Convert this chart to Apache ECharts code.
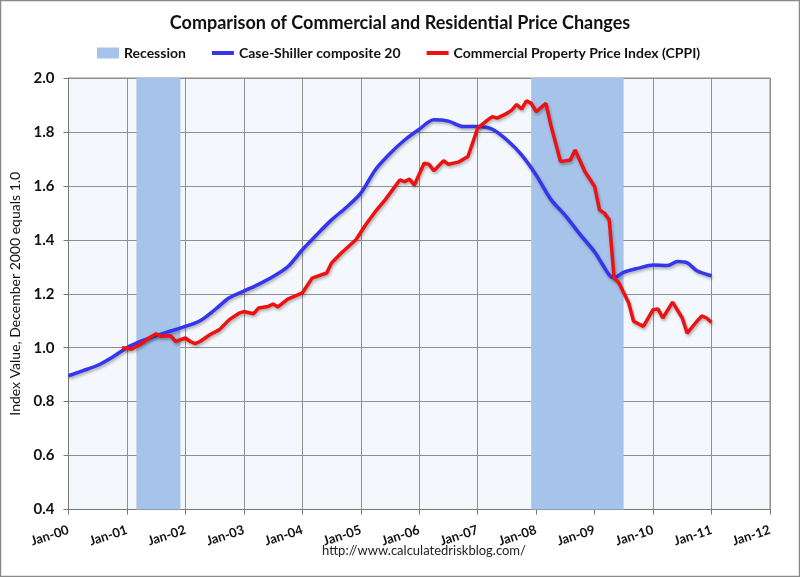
<!DOCTYPE html>
<html><head><meta charset="utf-8">
<script src="https://cdn.jsdelivr.net/npm/echarts@6/dist/echarts.min.js"></script>
<style>html,body{margin:0;padding:0;background:#fff}#c{width:800px;height:577px}</style>
</head><body><div id="c"></div>
<script>
var csDates = ['2000-01','2000-04','2000-07','2000-10','2001-01','2001-04','2001-07','2001-10','2002-01','2002-04','2002-07','2002-10','2003-01','2003-04','2003-07','2003-10','2004-01','2004-04','2004-07','2004-10','2005-01','2005-04','2005-07','2005-10','2006-01','2006-04','2006-07','2006-10','2007-01','2007-04','2007-07','2007-10','2008-01','2008-04','2008-07','2008-10','2009-01','2009-04','2009-05','2009-07','2009-10','2010-01','2010-04','2010-06','2010-08','2010-10','2011-01'];
var csValues = [0.896,0.915,0.935,0.965,1.0,1.025,1.045,1.062,1.079,1.10,1.14,1.185,1.21,1.235,1.264,1.30,1.363,1.42,1.474,1.52,1.573,1.66,1.72,1.77,1.81,1.845,1.84,1.82,1.82,1.81,1.77,1.715,1.64,1.55,1.49,1.42,1.355,1.27,1.26,1.28,1.295,1.307,1.305,1.32,1.315,1.285,1.267];

var cppiDates = ['2000-12','2001-02','2001-03','2001-04','2001-05','2001-07','2001-08','2001-10','2001-11','2002-01','2002-02','2002-03','2002-04','2002-06','2002-08','2002-10','2002-12','2003-01','2003-03','2003-04','2003-06','2003-07','2003-08','2003-10','2004-01','2004-03','2004-06','2004-07','2004-09','2004-12','2005-02','2005-04','2005-06','2005-09','2005-10','2005-11','2005-12','2006-02','2006-03','2006-04','2006-06','2006-07','2006-09','2006-11','2007-01','2007-03','2007-04','2007-05','2007-07','2007-08','2007-09','2007-10','2007-11','2007-12','2008-01','2008-03','2008-04','2008-06','2008-08','2008-09','2008-11','2009-01','2009-02','2009-03','2009-04','2009-05','2009-06','2009-08','2009-09','2009-11','2010-01','2010-02','2010-03','2010-05','2010-07','2010-08','2010-10','2010-11','2010-12','2011-01'];
var cppiValues = [1.0,0.995,1.005,1.015,1.03,1.052,1.042,1.044,1.023,1.036,1.023,1.015,1.023,1.048,1.067,1.104,1.128,1.134,1.126,1.147,1.153,1.162,1.151,1.18,1.203,1.258,1.277,1.314,1.351,1.40,1.456,1.505,1.548,1.622,1.616,1.625,1.603,1.684,1.68,1.656,1.693,1.68,1.688,1.709,1.814,1.844,1.857,1.851,1.869,1.881,1.902,1.885,1.915,1.906,1.875,1.906,1.826,1.69,1.696,1.733,1.653,1.598,1.511,1.499,1.474,1.258,1.24,1.166,1.098,1.079,1.141,1.144,1.11,1.169,1.11,1.054,1.098,1.118,1.11,1.094];

var recessions = [['2001-03-01','2001-11-30'],['2007-12-01','2009-06-30']];
var yearTicks = ['Jan-00','Jan-01','Jan-02','Jan-03','Jan-04','Jan-05','Jan-06','Jan-07','Jan-08','Jan-09','Jan-10','Jan-11','Jan-12'];

function monthToYear(s){var p=s.split('-');return +p[0]+(+p[1]-1)/12;}
function dayToYear(s){var d=new Date(s+'T00:00:00Z');var y=d.getUTCFullYear();var s0=Date.UTC(y,0,1),s1=Date.UTC(y+1,0,1);return y+(d.getTime()+ (s.slice(-2)==='30'||s.slice(-2)==='31'?86400000:0)-s0)/(s1-s0);}
function pairs(ds,vs){return ds.map(function(d,i){return [monthToYear(d),vs[i]];});}

var FONT = "Lato,'Liberation Sans',sans-serif";
var LINEICON = 'path://M0,0L22,0L22,4L0,4Z';
var chart = echarts.init(document.getElementById('c'));
chart.setOption({
  animation:false,
  backgroundColor:'#ffffff',
  title:[{text:'Comparison of Commercial and Residential Price Changes',left:'center',top:9,
          textStyle:{fontFamily:FONT,fontSize:18,fontWeight:'bold',color:'#111'}},
         {text:'http://www.calculatedriskblog.com/',left:419,textAlign:'center',top:539,
          textStyle:{fontFamily:FONT,fontSize:13,fontWeight:'normal',color:'#222'}}],
  legend:{top:41,left:92,itemGap:26,itemWidth:22,itemHeight:11,symbolKeepAspect:true,
    textStyle:{fontFamily:FONT,fontSize:14,fontWeight:'bold',color:'#111'},
    data:[{name:'Recession',icon:'rect'},{name:'Case-Shiller composite 20',icon:LINEICON},{name:'Commercial Property Price Index (CPPI)',icon:LINEICON}]},
  grid:{left:68.5,right:30,top:78,bottom:67.5,show:true,backgroundColor:'#f4f7fc',borderColor:'#8c8c8c',borderWidth:1},
  xAxis:{type:'value',min:2000,max:2012,interval:1,
    axisLine:{show:true,lineStyle:{color:'#777'}},
    axisTick:{show:true,length:5,lineStyle:{color:'#777'}},
    splitLine:{show:true,lineStyle:{color:'#8f8f8f',width:1}},
    axisLabel:{rotate:18,margin:20,fontFamily:FONT,fontSize:13,fontWeight:'bold',color:'#111',
      formatter:function(v){return yearTicks[Math.round(v-2000)];}}},
  yAxis:{type:'value',min:0.4,max:2.0,interval:0.2,
    name:'Index Value, December 2000 equals 1.0',nameLocation:'middle',nameGap:40,
    nameTextStyle:{fontFamily:FONT,fontSize:14,color:'#111'},
    axisLine:{show:true,lineStyle:{color:'#777'}},
    axisTick:{show:true,length:5,lineStyle:{color:'#777'}},
    splitLine:{show:true,lineStyle:{color:'#8f8f8f',width:1}},
    axisLabel:{fontFamily:FONT,fontSize:15,fontWeight:'bold',color:'#111',margin:14,
      formatter:function(v){return v.toFixed(1);}}},
  graphic:[{type:'rect',shape:{x:0.5,y:0.5,width:799,height:576},style:{fill:'none',stroke:'#8a8a8a',lineWidth:1.5},z:100}],
  series:[
    {name:'Recession',type:'line',data:[],color:'#a6c3ea',itemStyle:{color:'#a6c3ea'},lineStyle:{color:'#a6c3ea'},
     markArea:{silent:true,itemStyle:{color:'#a6c3ea',opacity:1},
       data:recessions.map(function(r){return [{xAxis:dayToYear(r[0])},{xAxis:dayToYear(r[1])}];})}},
    {name:'Case-Shiller composite 20',type:'line',data:pairs(csDates,csValues),smooth:0.3,symbol:'none',
     color:'#3535ee',lineStyle:{color:'#3535ee',width:3.5,shadowColor:'rgba(0,0,0,0.3)',shadowBlur:3,shadowOffsetX:1,shadowOffsetY:2},z:3},
    {name:'Commercial Property Price Index (CPPI)',type:'line',data:pairs(cppiDates,cppiValues),symbol:'none',
     color:'#ee1111',lineStyle:{color:'#ee1111',width:3.5,shadowColor:'rgba(0,0,0,0.3)',shadowBlur:3,shadowOffsetX:1,shadowOffsetY:2},z:4}
  ]
});
</script></body></html>
